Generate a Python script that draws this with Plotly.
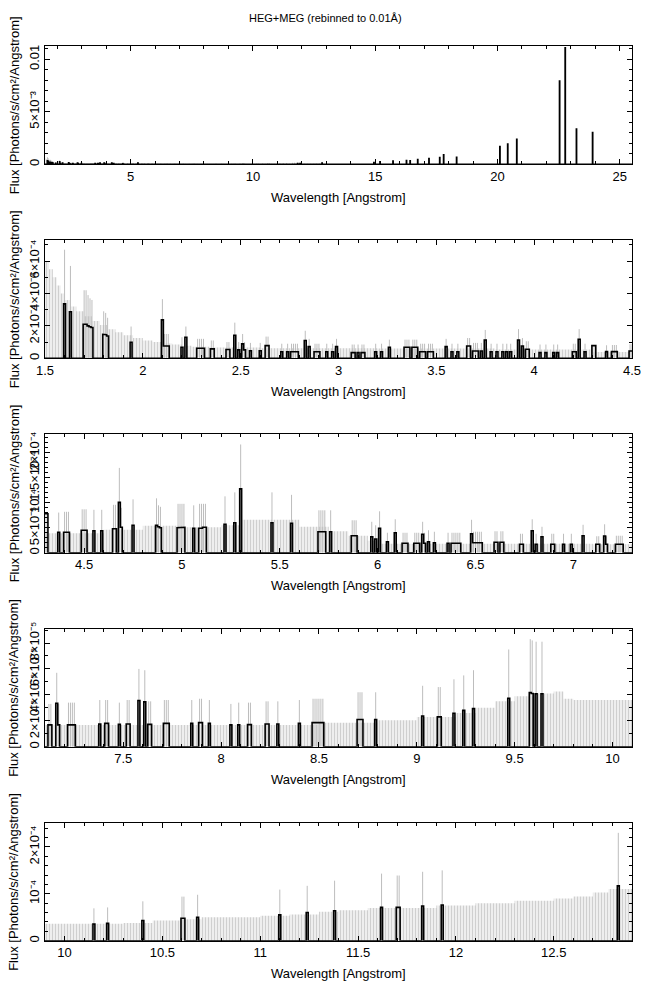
import plotly.graph_objects as go

BIN = 0.01  # Angstrom

# ---- non-zero bins (bin centre, flux, flux + 1 sigma) ----
# 1.5 - 4.3 A
p2_wl = [1.60, 1.63, 1.70, 1.71, 1.72, 1.73, 1.74, 1.80, 1.81, 1.82, 1.94, 2.10, 2.11, 2.12, 2.13,
         2.20, 2.22, 2.28, 2.29, 2.30, 2.31, 2.35, 2.36, 2.43, 2.44, 2.47, 2.49, 2.51, 2.52, 2.55,
         2.60, 2.63, 2.64, 2.71, 2.74, 2.76, 2.77, 2.78, 2.79, 2.83, 2.85, 2.88, 2.89, 2.90, 2.94,
         2.97, 2.99, 3.07, 3.08, 3.10, 3.12, 3.13, 3.19, 3.22, 3.26, 3.34, 3.35, 3.36, 3.38, 3.39,
         3.40, 3.42, 3.43, 3.44, 3.46, 3.47, 3.48, 3.55, 3.58, 3.61, 3.66, 3.67, 3.69, 3.70, 3.71,
         3.73, 3.75, 3.78, 3.81, 3.84, 3.86, 3.88, 3.92, 3.94, 3.96, 3.97, 4.03, 4.06, 4.10, 4.12,
         4.20, 4.21, 4.23, 4.26]
p2_flux = [3.36, 2.87, 2.10, 2.10, 2.00, 1.95, 1.90, 1.48, 1.45, 1.38, 0.99, 2.37, 0.76, 0.76, 0.76,
           0.68, 1.30, 0.62, 0.62, 0.62, 0.62, 0.58, 0.58, 0.54, 0.54, 1.42, 0.52, 0.89, 0.52, 0.47,
           0.47, 0.78, 0.78, 0.40, 0.40, 0.40, 0.40, 0.40, 0.40, 1.10, 0.72, 0.40, 0.40, 0.40, 0.40,
           0.40, 0.72, 0.35, 0.35, 0.35, 0.35, 0.35, 0.40, 0.40, 0.68, 0.68, 0.68, 0.68, 0.68, 0.68,
           0.68, 0.40, 0.40, 0.40, 0.40, 0.40, 0.40, 0.72, 0.40, 0.40, 0.76, 0.76, 0.45, 0.45, 0.45,
           0.45, 1.13, 0.40, 0.40, 0.40, 0.40, 0.40, 1.13, 0.76, 0.56, 0.56, 0.35, 0.35, 0.35, 0.35,
           0.40, 0.40, 1.18, 0.40]
p2_top = [6.70, 5.70, 4.20, 4.20, 3.90, 3.70, 3.60, 2.90, 2.80, 2.50, 1.96, 3.65, 1.50, 1.50, 1.50,
          1.30, 1.96, 1.20, 1.20, 1.20, 1.20, 1.10, 1.10, 1.00, 1.00, 2.20, 1.00, 1.50, 1.00, 0.95,
          0.95, 1.34, 1.34, 0.90, 0.90, 0.90, 0.90, 0.90, 0.90, 1.70, 1.20, 0.90, 0.90, 0.90, 0.90,
          0.90, 1.20, 0.85, 0.85, 0.85, 0.85, 0.85, 0.90, 0.90, 1.15, 1.15, 1.15, 1.15, 1.15, 1.15,
          1.15, 0.90, 0.90, 0.90, 0.90, 0.90, 0.90, 1.20, 0.90, 0.90, 1.25, 1.25, 0.95, 0.95, 0.95,
          0.95, 1.75, 0.90, 0.90, 0.90, 0.90, 0.90, 1.80, 1.25, 1.05, 1.05, 0.85, 0.85, 0.85, 0.85,
          0.90, 0.90, 1.80, 0.90]
p2_scale = 1e-4

# 4.3 - 7.1 A
p3_wl = [4.30, 4.31, 4.37, 4.40, 4.41, 4.42, 4.49, 4.50, 4.51, 4.55, 4.59, 4.65, 4.66, 4.68, 4.69,
         4.75, 4.87, 4.88, 4.89, 4.98, 4.99, 5.00, 5.01, 5.06, 5.09, 5.10, 5.11, 5.12, 5.22, 5.27,
         5.30, 5.46, 5.56, 5.70, 5.71, 5.72, 5.73, 5.76, 5.87, 5.88, 5.89, 5.97, 5.99, 6.01, 6.05,
         6.09, 6.13, 6.14, 6.15, 6.19, 6.20, 6.21, 6.23, 6.24, 6.26, 6.29, 6.36, 6.38, 6.39, 6.40,
         6.41, 6.42, 6.48, 6.49, 6.50, 6.51, 6.52, 6.53, 6.60, 6.61, 6.63, 6.64, 6.73, 6.74, 6.79,
         6.81, 6.84, 6.89, 6.90, 6.95, 6.99, 7.05]
p3_flux = [7.8, 7.8, 4.1, 4.1, 4.1, 4.1, 4.5, 4.5, 4.5, 4.4, 4.4, 4.8, 4.8, 10.1, 5.1,
           5.5, 5.5, 5.2, 5.0, 5.0, 5.0, 5.0, 5.1, 4.9, 4.9, 4.9, 5.1, 5.1, 5.7, 6.0,
           12.8, 6.0, 5.9, 4.2, 4.2, 4.2, 4.2, 4.2, 3.4, 3.4, 3.4, 3.2, 2.75, 4.9, 2.2,
           4.0, 1.9, 1.9, 1.9, 1.9, 1.9, 1.9, 3.7, 1.9, 2.2, 2.0, 1.9, 1.9, 1.9, 1.9,
           1.9, 1.9, 3.8, 2.0, 2.0, 2.0, 2.0, 2.0, 2.1, 2.1, 2.1, 2.1, 1.7, 1.7, 4.4,
           1.7, 3.2, 1.7, 1.7, 1.7, 1.7, 3.4]
p3_top = [8.0, 8.0, 8.05, 8.2, 8.2, 8.2, 8.7, 8.7, 8.7, 8.6, 8.6, 9.6, 9.6, 17.0, 9.0,
          10.7, 10.9, 9.5, 9.2, 9.8, 9.8, 9.8, 9.8, 9.5, 9.8, 9.8, 9.8, 9.8, 11.3, 12.1,
          21.7, 12.1, 11.6, 8.5, 8.5, 8.5, 8.5, 8.5, 6.5, 6.5, 6.5, 6.2, 5.5, 8.3, 4.0,
          6.7, 4.0, 4.0, 4.0, 4.0, 4.0, 4.0, 6.2, 4.0, 4.5, 4.2, 4.0, 4.0, 4.0, 4.0,
          4.0, 4.0, 6.6, 4.2, 4.2, 4.2, 4.2, 4.2, 4.3, 4.3, 4.3, 4.3, 3.8, 3.8, 6.7,
          3.8, 5.2, 3.8, 3.8, 3.8, 3.8, 5.6]
p3_scale = 1e-5

# 7.1 - 9.9 A
p4_wl = [7.12, 7.13, 7.16, 7.17, 7.22, 7.23, 7.24, 7.25, 7.38, 7.41, 7.42, 7.48, 7.52, 7.53, 7.58,
         7.61, 7.63, 7.64, 7.71, 7.72, 7.73, 7.85, 7.89, 7.90, 7.94, 8.05, 8.09, 8.14, 8.15, 8.23,
         8.24, 8.29, 8.40, 8.47, 8.48, 8.49, 8.50, 8.51, 8.52, 8.70, 8.71, 8.72, 8.79, 9.03, 9.11,
         9.12, 9.19, 9.24, 9.29, 9.47, 9.58, 9.59, 9.61, 9.64]
p4_flux = [1.68, 1.68, 3.35, 1.68, 1.68, 1.68, 1.68, 1.68, 1.75, 1.80, 1.80, 1.72, 1.75, 1.75, 3.56,
           3.46, 1.72, 1.72, 1.80, 1.80, 1.80, 1.80, 1.86, 1.86, 1.80, 1.68, 1.68, 1.70, 1.70, 1.75,
           1.75, 1.75, 1.80, 1.86, 1.86, 1.86, 1.86, 1.86, 1.86, 2.10, 2.10, 2.10, 2.10, 2.37, 2.30,
           2.30, 2.58, 2.80, 2.94, 3.74, 4.18, 4.10, 4.08, 4.08]
p4_top = [3.3, 3.3, 5.7, 3.3, 3.4, 3.4, 3.4, 3.4, 3.6, 3.6, 3.6, 3.4, 3.6, 3.6, 6.0,
          5.9, 3.5, 3.5, 3.6, 3.6, 3.6, 3.6, 3.7, 3.7, 3.6, 3.3, 3.4, 3.4, 3.4, 3.5,
          3.5, 3.5, 3.6, 3.7, 3.7, 3.7, 3.7, 3.7, 3.7, 4.2, 4.2, 4.2, 4.2, 4.7, 4.6,
          4.6, 5.2, 5.5, 5.9, 7.5, 8.3, 8.2, 8.1, 8.1]
p4_scale = 1e-5

# 9.9 - 12.9 A
p5_wl = [10.15, 10.22, 10.40, 10.60, 10.61, 10.68, 11.10, 11.24, 11.38, 11.62, 11.70, 11.71,
         11.83, 11.93, 12.83]
p5_flux = [3.57, 3.70, 4.30, 4.80, 4.80, 5.00, 5.50, 6.00, 6.40, 7.10, 7.10, 7.10, 7.40, 7.60, 11.7]
p5_top = [6.9, 7.1, 8.4, 9.4, 9.4, 9.8, 10.9, 11.7, 12.8, 14.3, 13.9, 13.9, 14.7, 15.0, 23.0]
p5_scale = 1e-5

# long-wavelength lines (only in the overview)
p1_wl = [14.95, 15.20, 15.73, 16.28, 16.43, 16.74, 17.20, 17.64, 17.80, 18.33, 20.10, 20.42,
         20.79, 22.54, 22.77, 23.23, 23.89]
p1_flux = [1.6, 2.3, 3.0, 3.5, 3.3, 4.5, 5.5, 6.5, 9.0, 6.7, 16.8, 19.4, 23.8, 79.4, 111.0, 33.7, 30.2]
p1_scale = 1e-4

# 1-sigma upper level of the empty bins (left edge of each step, value)
env_wl = [1.50, 1.52, 1.54, 1.56, 1.58, 1.60, 1.63, 1.66, 1.70, 1.74, 1.78, 1.82, 1.86, 1.90,
          1.95, 2.00, 2.05, 2.10, 2.15, 2.20, 2.25, 2.35, 2.60, 3.20, 3.80, 4.30, 4.60, 4.80,
          5.00, 5.20, 5.30, 5.60, 5.75, 5.85, 5.95, 6.00, 7.10, 8.50, 8.80, 9.00, 9.20, 9.30,
          9.40, 9.50, 9.60, 9.70, 9.75, 9.80, 10.30, 10.45, 10.60, 10.70, 11.00, 11.15, 11.30,
          11.40, 11.55, 11.90, 12.10, 12.30, 12.50, 12.60, 12.70, 12.78, 12.90]
env_val = [60.0, 55.0, 50.0, 45.0, 40.0, 36.0, 32.0, 29.0, 26.0, 23.0, 20.5, 18.0, 16.0, 14.2,
           12.5, 11.0, 10.0, 9.2, 8.5, 7.8, 7.2, 6.6, 6.2, 6.0, 5.5, 3.9, 4.6, 5.4,
           5.1, 5.5, 6.6, 5.2, 4.3, 3.4, 2.4, 1.8, 1.68, 1.85, 2.05, 2.3, 2.6, 3.0,
           3.5, 3.9, 4.1, 4.25, 3.7, 3.6, 3.8, 4.3, 4.6, 5.0, 5.3, 5.6, 6.2,
           6.5, 7.0, 7.5, 8.0, 8.5, 9.0, 9.4, 10.3, 11.0, 11.0]
env_scale = 1e-5

# ---- panels ----
x_ranges = [(1.5, 25.5), (1.5, 4.5), (4.3, 7.3), (7.1, 10.1), (9.9, 12.9)]
y_ranges = [(0, 0.01127), (0, 7.3e-4), (0, 2.38e-4), (0, 9.08e-5), (0, 2.51e-4)]
x_ticks = [[5, 10, 15, 20, 25],
           [1.5, 2, 2.5, 3, 3.5, 4, 4.5],
           [4.5, 5, 5.5, 6, 6.5, 7],
           [7.5, 8, 8.5, 9, 9.5, 10],
           [10, 10.5, 11, 11.5, 12, 12.5]]
x_minor = [1, 0.1, 0.1, 0.1, 0.1]
y_ticks = [[0, 0.005, 0.01],
           [0, 2e-4, 4e-4, 6e-4],
           [0, 5e-5, 1e-4, 1.5e-4, 2e-4],
           [0, 2e-5, 4e-5, 6e-5, 8e-5],
           [0, 1e-4, 2e-4]]
y_ticktext = [["0", "5×10⁻³", "0.01"],
              ["0", "2×10⁻⁴", "4×10⁻⁴", "6×10⁻⁴"],
              ["0", "5×10⁻⁵", "10⁻⁴", "1.5×10⁻⁴", "2×10⁻⁴"],
              ["0", "2×10⁻⁵", "4×10⁻⁵", "6×10⁻⁵", "8×10⁻⁵"],
              ["0", "10⁻⁴", "2×10⁻⁴"]]
y_minor = [1e-3, 1e-4, 1e-5, 1e-5, 2e-5]

title_text = "HEG+MEG (rebinned to 0.01Å)"
x_title = "Wavelength [Angstrom]"
y_title = "Flux [Photons/s/cm²/Angstrom]"

# ---- assemble data ----
all_wl, all_flux, all_top = [], [], []
for wl, fl, tp, sc in [(p2_wl, p2_flux, p2_top, p2_scale), (p3_wl, p3_flux, p3_top, p3_scale),
                       (p4_wl, p4_flux, p4_top, p4_scale), (p5_wl, p5_flux, p5_top, p5_scale)]:
    all_wl += wl
    all_flux += [v * sc for v in fl]
    all_top += [v * sc for v in tp]
all_wl += p1_wl
all_flux += [v * p1_scale for v in p1_flux]
all_top += [v * p1_scale for v in p1_flux]
order = sorted(range(len(all_wl)), key=lambda i: all_wl[i])
all_wl = [all_wl[i] for i in order]
all_flux = [all_flux[i] for i in order]
all_top = [all_top[i] for i in order]

env_y = [v * env_scale for v in env_val]

FONT = "Liberation Sans, Arial, sans-serif"
W, H = 650, 991
X0, X1 = 45, 632
tops = [46, 240, 434, 629, 823]
bots = [164.3, 358.3, 552.7, 746.7, 940.7]

fig = go.Figure()
layout = dict(width=W, height=H, margin=dict(l=0, r=0, t=0, b=0),
              paper_bgcolor="white", plot_bgcolor="white", showlegend=False,
              font=dict(family=FONT, size=13, color="black"))
annotations = [dict(text=title_text, x=325 / W, y=1 - 18 / H, xref="paper", yref="paper",
                    showarrow=False, font=dict(size=11, family=FONT), xanchor="center", yanchor="middle")]

for p in range(5):
    sfx = "" if p == 0 else str(p + 1)
    xa, ya = "x" + sfx, "y" + sfx
    lo, hi = x_ranges[p]

    # envelope of upper limits for empty bins
    fig.add_trace(go.Scatter(x=env_wl, y=env_y, xaxis=xa, yaxis=ya, mode="lines",
                             line=dict(shape="hv", width=0, color="#d8d8d8"),
                             fill="tozeroy", fillcolor="#ececec",
                             fillpattern=dict(shape="|", fgcolor="#a9a9a9", bgcolor="#eeeeee",
                                              size=3, solidity=0.3),
                             hoverinfo="skip"))

    sel = [i for i in range(len(all_wl)) if lo - BIN <= all_wl[i] <= hi + BIN]

    # error bars of non-empty bins
    ex, ey = [], []
    for i in sel:
        if all_top[i] > all_flux[i]:
            ex += [all_wl[i], all_wl[i], None]
            ey += [0, all_top[i], None]
    fig.add_trace(go.Scatter(x=ex, y=ey, xaxis=xa, yaxis=ya, mode="lines",
                             line=dict(color="#bdbdbd", width=1), hoverinfo="skip"))

    # histogram
    sx, sy = [lo], [0.0]
    cur_end = None
    for i in sel:
        b0 = round(all_wl[i] - BIN / 2, 4)
        b1 = round(all_wl[i] + BIN / 2, 4)
        f = all_flux[i]
        if cur_end is not None and abs(b0 - cur_end) < 1e-6:
            sx += [b0, b1]
            sy += [f, f]
        else:
            if cur_end is not None:
                sx += [cur_end]
                sy += [0.0]
            sx += [b0, b0, b1]
            sy += [0.0, f, f]
        cur_end = b1
    if cur_end is not None:
        sx += [cur_end]
        sy += [0.0]
    sx += [hi]
    sy += [0.0]
    fig.add_trace(go.Scatter(x=sx, y=sy, xaxis=xa, yaxis=ya, mode="lines",
                             line=dict(color="black", width=1.6), hoverinfo="skip"))

    ydom = [1 - bots[p] / H, 1 - tops[p] / H]
    layout["xaxis" + sfx] = dict(
        domain=[X0 / W, X1 / W], anchor=ya, range=[lo, hi],
        tickmode="array", tickvals=x_ticks[p], ticktext=[("%g" % v) for v in x_ticks[p]],
        ticks="inside", ticklen=5, tickwidth=1, tickcolor="black",
        minor=dict(ticks="inside", ticklen=3, tickcolor="black", dtick=x_minor[p], tick0=0),
        showline=True, linecolor="black", linewidth=1, mirror="allticks",
        showgrid=False, zeroline=False, tickfont=dict(size=13, family=FONT), automargin=False)
    layout["yaxis" + sfx] = dict(
        domain=ydom, anchor=xa, range=list(y_ranges[p]),
        tickmode="array", tickvals=y_ticks[p], ticktext=y_ticktext[p], tickangle=-90,
        ticks="inside", ticklen=5, tickwidth=1, tickcolor="black",
        minor=dict(ticks="inside", ticklen=3, tickcolor="black", dtick=y_minor[p], tick0=0),
        showline=True, linecolor="black", linewidth=1, mirror="allticks",
        showgrid=False, zeroline=False, tickfont=dict(size=13, family=FONT), automargin=False)

    annotations.append(dict(text=x_title, x=(X0 + X1) / 2 / W, y=1 - (bots[p] + 33) / H,
                            xref="paper", yref="paper", showarrow=False,
                            xanchor="center", yanchor="middle", font=dict(size=13, family=FONT)))
    annotations.append(dict(text=y_title, x=14 / W, y=1 - (tops[p] + bots[p]) / 2 / H,
                            xref="paper", yref="paper", showarrow=False, textangle=-90,
                            xanchor="center", yanchor="middle", font=dict(size=13, family=FONT)))

layout["annotations"] = annotations
fig.update_layout(**layout)
fig.write_html("out.html", config={"displayModeBar": False},
               post_script="document.body.style.margin='0';document.body.style.overflow='hidden';")
